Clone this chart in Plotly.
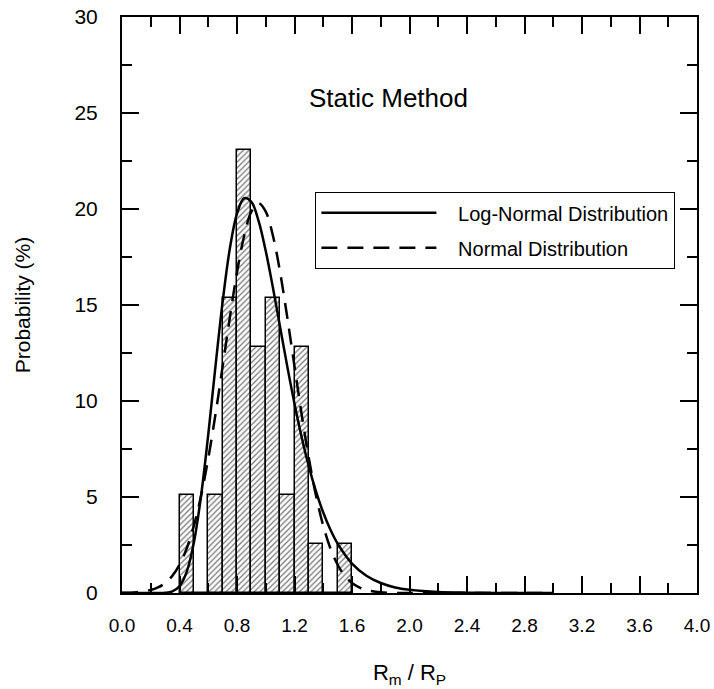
import plotly.graph_objects as go

# Histogram (bin centers, % of 39 samples)
bin_centers = [0.45, 0.55, 0.65, 0.75, 0.85, 0.95, 1.05, 1.15, 1.25, 1.35, 1.45, 1.55]
bin_probs = [5.13, 0.0, 5.13, 15.38, 23.08, 12.82, 15.38, 5.13, 12.82, 2.56, 0.0, 2.56]
bin_width = 0.1

# Log-normal fitted curve
ln_x = [0.0, 0.2, 0.25, 0.3, 0.35, 0.4, 0.45, 0.5, 0.55, 0.6, 0.65, 0.7, 0.75, 0.8, 0.85,
        0.9, 0.95, 1.0, 1.05, 1.1, 1.15, 1.2, 1.25, 1.3, 1.35, 1.4, 1.45, 1.5, 1.6, 1.7,
        1.8, 1.9, 2.0, 2.2, 2.4, 2.6, 2.8, 3.0]
ln_y = [0.0, 0.0, 0.0005, 0.01, 0.08, 0.35, 1.10, 2.63, 5.06, 8.25, 11.79, 15.16, 17.93,
        19.76, 20.56, 20.37, 19.38, 17.81, 15.90, 13.84, 11.79, 9.86, 8.11, 6.58, 5.28,
        4.19, 3.29, 2.57, 1.53, 0.90, 0.52, 0.29, 0.17, 0.05, 0.016, 0.005, 0.002, 0.0005]

# Normal fitted curve
n_x = [0.0, 0.1, 0.2, 0.25, 0.3, 0.35, 0.4, 0.45, 0.5, 0.55, 0.6, 0.65, 0.7, 0.75, 0.8,
       0.85, 0.9, 0.95, 1.0, 1.05, 1.1, 1.15, 1.2, 1.25, 1.3, 1.35, 1.4, 1.45, 1.5, 1.55,
       1.6, 1.65, 1.7, 1.8, 1.9, 2.0, 2.4, 2.8, 3.0]
n_y = [0.008, 0.038, 0.154, 0.289, 0.518, 0.892, 1.47, 2.32, 3.50, 5.06, 7.01, 9.29, 11.80,
       14.34, 16.70, 18.61, 19.86, 20.3, 19.86, 18.61, 16.70, 14.34, 11.80, 9.29, 7.01,
       5.06, 3.50, 2.32, 1.47, 0.892, 0.518, 0.289, 0.154, 0.038, 0.008, 0.0012, 0.0, 0.0, 0.0]

x_ticks = [0.0, 0.4, 0.8, 1.2, 1.6, 2.0, 2.4, 2.8, 3.2, 3.6, 4.0]
x_ticklabels = ["0.0", "0.4", "0.8", "1.2", "1.6", "2.0", "2.4", "2.8", "3.2", "3.6", "4.0"]
y_ticks = [0, 5, 10, 15, 20, 25, 30]

FONT = "Liberation Sans, Arial, sans-serif"
NB = "\u00a0\u00a0\u00a0"

fig = go.Figure()
fig.add_trace(go.Bar(
    x=bin_centers, y=bin_probs, width=bin_width,
    marker=dict(color="white", line=dict(color="black", width=1.5),
                pattern=dict(shape="/", fgcolor="black", bgcolor="white", size=4, solidity=0.35)),
    showlegend=False,
))
fig.add_trace(go.Scatter(
    x=ln_x, y=ln_y, mode="lines", name=NB + "Log-Normal Distribution",
    line=dict(color="black", width=2.5, shape="spline"), legendgroup="a",
))
fig.add_trace(go.Scatter(
    x=n_x, y=n_y, mode="lines", name=NB + "Normal Distribution",
    line=dict(color="black", width=2.5, dash="16px,10px", shape="spline"), legendgroup="b",
))

fig.update_layout(
    width=714, height=689,
    margin=dict(l=122, r=17, t=17, b=96),
    paper_bgcolor="white", plot_bgcolor="white",
    font=dict(family=FONT, color="black"),
    bargap=0,
    legend=dict(x=0.336, y=0.696, xanchor="left", yanchor="top",
                bordercolor="black", borderwidth=1.2, bgcolor="white",
                font=dict(size=20), itemwidth=115, tracegroupgap=6),
    annotations=[dict(text="Static Method", x=0.464, y=0.859, xref="paper", yref="paper",
                      xanchor="center", yanchor="middle",
                      showarrow=False, font=dict(size=26))],
)
fig.update_xaxes(
    range=[0, 4], tickvals=x_ticks, ticktext=x_ticklabels, automargin=False,
    ticks="inside", ticklen=17, tickwidth=1.5, tickcolor="black",
    minor=dict(dtick=0.2, ticks="inside", ticklen=10, tickwidth=1.5, tickcolor="black"),
    showline=True, linewidth=2, linecolor="black", mirror="ticks",
    showgrid=False, zeroline=False, tickfont=dict(size=19), ticklabelstandoff=14,
    title=dict(text="R<sub>m</sub> / R<sub>P</sub>", font=dict(size=22), standoff=30),
)
fig.update_yaxes(
    range=[0, 30], tickvals=y_ticks, automargin=False,
    ticks="inside", ticklen=17, tickwidth=1.5, tickcolor="black",
    minor=dict(dtick=2.5, ticks="inside", ticklen=10, tickwidth=1.5, tickcolor="black"),
    showline=True, linewidth=2, linecolor="black", mirror="ticks",
    showgrid=False, zeroline=False, tickfont=dict(size=21), ticklabelstandoff=18,
    title=dict(text="Probability (%)", font=dict(size=21), standoff=38),
)

fig.write_html("out.html")
